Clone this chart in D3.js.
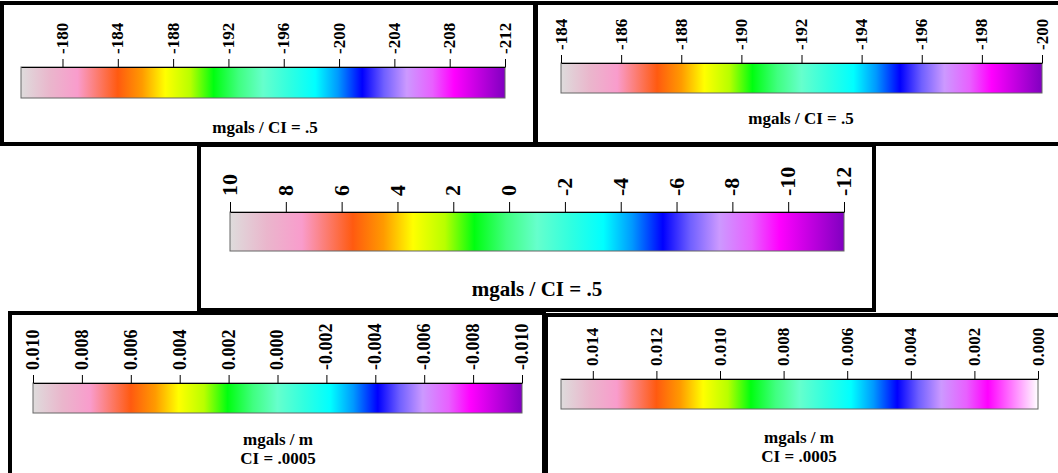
<!DOCTYPE html>
<html>
<head>
<meta charset="utf-8">
<script src="https://cdn.jsdelivr.net/npm/d3@7"></script>
<style>
  body { margin: 0; background: #fff; }
  svg text { font-family: "Liberation Serif", "DejaVu Serif", serif; font-weight: bold; }
</style>
</head>
<body>
<script>
// tick values for each colour bar
const ticksA = [-180, -184, -188, -192, -196, -200, -204, -208, -212];
const ticksB = [-184, -186, -188, -190, -192, -194, -196, -198, -200];
const ticksC = [10, 8, 6, 4, 2, 0, -2, -4, -6, -8, -10, -12];
const ticksD = [0.010, 0.008, 0.006, 0.004, 0.002, 0.000, -0.002, -0.004, -0.006, -0.008, -0.010];
const ticksE = [0.014, 0.012, 0.010, 0.008, 0.006, 0.004, 0.002, 0.000];

// value range covered by each bar
const domainA = [-177, -212];
const domainB = [-184, -200];
const domainC = [10, -12];
const domainD = [0.010, -0.010];
const domainE = [0.015, 0.000];

// unit / contour interval captions
const titleA = ["mgals / CI = .5"];
const titleB = ["mgals / CI = .5"];
const titleC = ["mgals / CI = .5"];
const titleD = ["mgals / m", "CI = .0005"];
const titleE = ["mgals / m", "CI = .0005"];

// colour ramp (offset along bar, colour)
const rampOffsets = [0, 0.06, 0.117, 0.2, 0.25, 0.298, 0.35, 0.398, 0.45, 0.5, 0.555, 0.608, 0.655, 0.705, 0.75, 0.797, 0.85, 0.895, 1];
const rampColors = ["#dedcdc", "#eab6cc", "#f99ccc", "#ff5a10", "#ff9a00", "#ffff00", "#b8ff00", "#00ff10", "#40ff80", "#66ffcc", "#30ffe0", "#00ffff", "#0099ff", "#0000ff", "#7060ff", "#cc99ff", "#e860ff", "#ff00ff", "#8000c0"];
const rampColorsWhite = ["#dedcdc", "#eab6cc", "#f99ccc", "#ff5a10", "#ff9a00", "#ffff00", "#b8ff00", "#00ff10", "#40ff80", "#66ffcc", "#30ffe0", "#00ffff", "#0099ff", "#0000ff", "#7060ff", "#cc99ff", "#e860ff", "#ff00ff", "#ffffff"];

const intFmt = d => String(d);
const decFmt = d => d.toFixed(3);
const serif = '"Liberation Serif", "DejaVu Serif", serif';

const svg = d3.select("body")
    .append("svg")
    .attr("width", 1058)
    .attr("height", 473);

const defs = svg.append("defs");

function makeGradient(id, colors) {
    const g = defs.append("linearGradient")
        .attr("id", id)
        .attr("x1", "0%").attr("x2", "100%")
        .attr("y1", "0%").attr("y2", "0%");
    g.selectAll("stop")
        .data(rampOffsets)
        .join("stop")
        .attr("offset", d => (d * 100) + "%")
        .attr("stop-color", (d, i) => colors[i]);
}
makeGradient("rampPurple", rampColors);
makeGradient("rampWhite", rampColorsWhite);

// panels, drawn in order so later frames sit on top
const panels = [
    {box: [2, 3, 535, 144], bar: [21, 67, 505, 98], ticks: ticksA, domain: domainA, fmt: intFmt,
     tickLen: 8, gap: 5, labelSize: 17, title: titleA, titleX: 265, titleY: 133, titleSize: 17, grad: "rampPurple"},
    {box: [536, 3, 1062, 144], bar: [561, 63, 1042, 93], ticks: ticksB, domain: domainB, fmt: intFmt,
     tickLen: 8, gap: 5, labelSize: 17, title: titleB, titleX: 801, titleY: 124, titleSize: 17, grad: "rampPurple"},
    {box: [199, 145, 874, 310], bar: [230, 212, 844, 251], ticks: ticksC, domain: domainC, fmt: intFmt,
     tickLen: 10, gap: 6, labelSize: 22, title: titleC, titleX: 537, titleY: 296, titleSize: 21, grad: "rampPurple"},
    {box: [10, 313, 544, 480], bar: [33, 383, 522, 413], ticks: ticksD, domain: domainD, fmt: decFmt,
     tickLen: 8, gap: 5, labelSize: 18, title: titleD, titleX: 278, titleY: 445, titleSize: 17, grad: "rampPurple"},
    {box: [546, 315, 1062, 480], bar: [561, 379, 1038, 409], ticks: ticksE, domain: domainE, fmt: decFmt,
     tickLen: 8, gap: 5, labelSize: 17, title: titleE, titleX: 799, titleY: 443, titleSize: 17, grad: "rampWhite"}
];

panels.forEach(function(p) {
    const g = svg.append("g");

    // white panel with thick black frame
    g.append("rect")
        .attr("x", p.box[0])
        .attr("y", p.box[1])
        .attr("width", p.box[2] - p.box[0])
        .attr("height", p.box[3] - p.box[1])
        .attr("fill", "#fff")
        .attr("stroke", "#000")
        .attr("stroke-width", 4);

    const x = d3.scaleLinear()
        .domain(p.domain)
        .range([p.bar[0], p.bar[2]]);

    // colour bar
    g.append("rect")
        .attr("x", x(p.domain[0]))
        .attr("y", p.bar[1])
        .attr("width", x(p.domain[1]) - x(p.domain[0]))
        .attr("height", p.bar[3] - p.bar[1])
        .attr("fill", `url(#${p.grad})`)
        .attr("stroke", "#666")
        .attr("stroke-width", 1);

    // ticks on top, labels rotated to read upward
    const axis = g.append("g")
        .attr("transform", `translate(0, ${p.bar[1]})`)
        .call(d3.axisTop(x)
            .tickValues(p.ticks)
            .tickSize(p.tickLen)
            .tickSizeOuter(0)
            .tickFormat(p.fmt))
        .attr("font-family", serif)
        .attr("font-size", p.labelSize);

    axis.select(".domain").attr("stroke", "#000");
    axis.selectAll(".tick line").attr("stroke", "#000");
    axis.selectAll(".tick text")
        .attr("transform", "rotate(-90)")
        .attr("x", p.tickLen + p.gap)
        .attr("y", 0)
        .attr("dy", "0.3em")
        .attr("text-anchor", "start")
        .attr("fill", "#000")
        .style("font-family", serif)
        .style("font-weight", "bold")
        .style("font-size", p.labelSize + "px");

    g.selectAll(".caption")
        .data(p.title)
        .join("text")
        .attr("class", "caption")
        .attr("x", p.titleX)
        .attr("y", (d, i) => p.titleY + i * (p.titleSize + 2))
        .attr("text-anchor", "middle")
        .style("font-family", serif)
        .style("font-weight", "bold")
        .style("font-size", p.titleSize + "px")
        .text(d => d);
});
</script>
</body>
</html>
